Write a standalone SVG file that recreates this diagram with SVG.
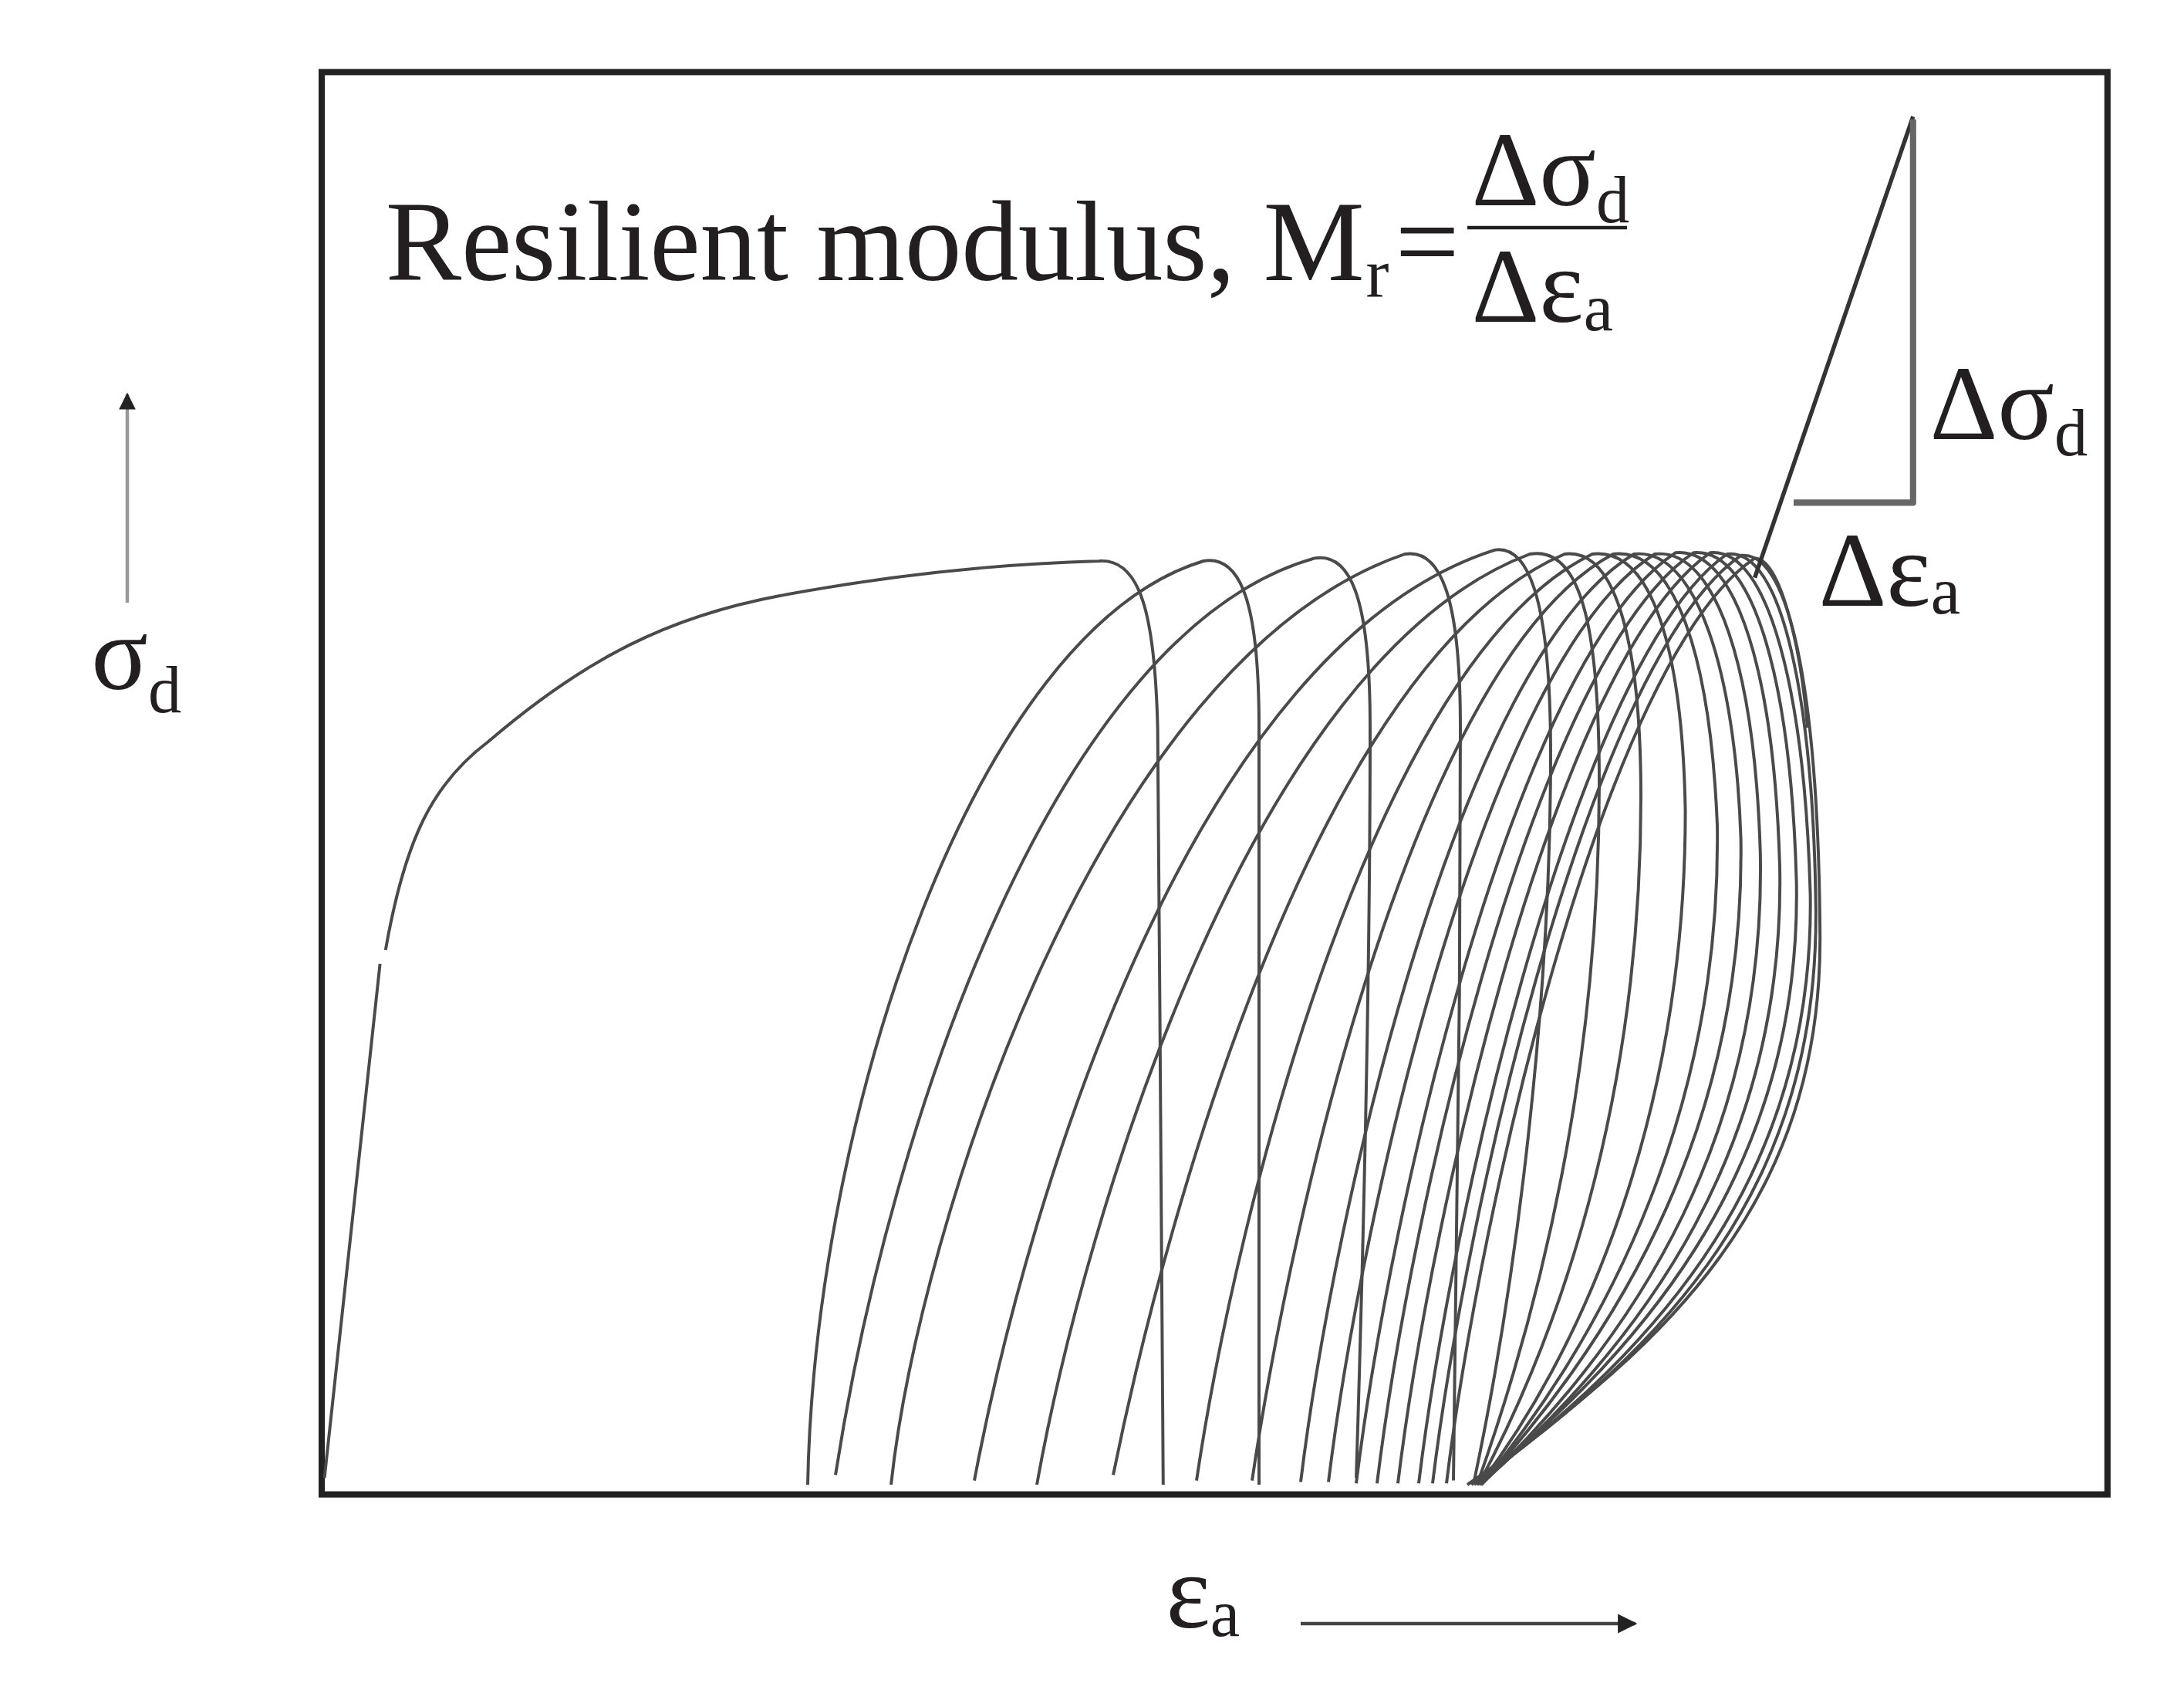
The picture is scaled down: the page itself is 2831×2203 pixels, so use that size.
<svg xmlns="http://www.w3.org/2000/svg" width="2831" height="2203" viewBox="0 0 2831 2203">
<style>
.t{font-family:"Liberation Serif","Times New Roman",serif;fill:#231f20}
.c{fill:none;stroke:#4a4a4a;stroke-width:2.2}
</style>
<defs>
<marker id="ah" viewBox="0 0 10 10" markerWidth="16" markerHeight="12" refX="9" refY="5" orient="auto" markerUnits="userSpaceOnUse"><path d="M0,0 L10,5 L0,10 Z" fill="#222"/></marker>
<marker id="ah2" viewBox="0 0 10 10" markerWidth="18" markerHeight="14" refX="9" refY="5" orient="auto" markerUnits="userSpaceOnUse"><path d="M0,0 L10,5 L0,10 Z" fill="#222"/></marker>
</defs>
<rect width="2831" height="2203" fill="#fff"/>
<g transform="translate(3,7) scale(1.8)">
<g id="frame"><rect x="230" y="48" width="1286" height="1024" fill="none" stroke="#222" stroke-width="4.5"/></g>
<g id="curves">
<path class="c" d="M232,1060 L272,690 M276,680 C290,600 310,560 350,530 C420,470 480,440 560,425 C640,410 720,402 790,400 C820,398 830,440 832,520 C834,700 834,900 836,1065"/>
<path class="c" d="M580,1065 C585,800 700,450 865,400 C895,395 905,440 905,520 C905,700 905,900 905,1065"/>
<path class="c" d="M600,1058 C640,800 760,450 945,398 C975,393 985,440 985,520 C985,700 980,900 975,1060"/>
<path class="c" d="M640,1065 C660,880 790,470 1010,395 C1040,390 1050,440 1050,520 C1050,700 1048,900 1045,1062"/>
<path class="c" d="M700,1062 C740,850 860,460 1075,392 C1105,388 1115,450 1115,540 C1115,720 1090,920 1060,1062"/>
<path class="c" d="M745,1065 C780,870 900,470 1100,395 C1140,388 1150,460 1150,560 C1150,760 1110,930 1062,1065"/>
<path class="c" d="M800,1058 C840,860 950,470 1125,395 C1165,390 1180,470 1180,570 C1180,770 1130,940 1063,1065"/>
<path class="c" d="M860,1062 C890,860 990,470 1145,395 C1190,390 1210,470 1212,580 C1212,780 1150,950 1064,1065"/>
<path class="c" d="M900,1062 C930,860 1020,470 1160,395 C1205,390 1230,470 1235,590 C1238,790 1160,950 1065,1065"/>
<path class="c" d="M935,1063 C960,860 1050,470 1175,395 C1220,390 1248,480 1252,600 C1255,800 1170,950 1065,1065"/>
<path class="c" d="M955,1063 C980,860 1070,470 1190,395 C1235,390 1262,480 1266,610 C1270,810 1180,955 1065,1065"/>
<path class="c" d="M975,1064 C1000,860 1090,470 1205,394 C1250,390 1276,485 1280,620 C1284,820 1185,960 1064,1065"/>
<path class="c" d="M990,1064 C1015,860 1105,470 1218,394 C1262,390 1288,490 1292,630 C1296,830 1190,960 1062,1065"/>
<path class="c" d="M1005,1064 C1030,860 1120,470 1230,394 C1272,390 1298,495 1302,640 C1305,840 1195,965 1060,1065"/>
<path class="c" d="M1020,1064 C1045,860 1135,470 1242,395 C1282,390 1304,500 1306,650 C1308,850 1200,965 1058,1065"/>
<path class="c" d="M1030,1064 C1055,860 1145,470 1252,396 C1290,392 1308,510 1309,670 C1310,860 1200,965 1055,1065"/>
<path class="c" d="M1040,1064 C1065,860 1155,470 1262,398 C1280,398 1295,460 1300,520"/>
</g>
<g id="tangent">
<path d="M1376,80 L1262,412" fill="none" stroke="#333" stroke-width="3"/>
<path d="M1376,82 L1376,358 L1290,358" fill="none" stroke="#666" stroke-width="4.5" stroke-linejoin="round"/>
</g>
<g id="axes">
<line x1="90" y1="430" x2="90" y2="280" stroke="#999" stroke-width="2.5" marker-end="url(#ah)"/>
<line x1="935" y1="1165" x2="1176" y2="1165" stroke="#444" stroke-width="2.5" marker-end="url(#ah2)"/>
</g>
<g id="labels">
<text class="t" x="276" y="198" font-size="82" textLength="705">Resilient modulus, M</text>
<text class="t" x="982" y="210" font-size="50">r</text>
<text class="t" x="1003" y="198" font-size="82">=</text>
<text class="t" x="1058" y="144" font-size="76">Δσ<tspan font-size="48" dy="12">d</tspan></text>
<line x1="1055" y1="160" x2="1170" y2="160" stroke="#231f20" stroke-width="2.5"/>
<text class="t" x="1058" y="228" font-size="76">Δε<tspan font-size="48" dy="6">a</tspan></text>
<text class="t" x="1388" y="312" font-size="76">Δσ<tspan font-size="48" dy="12">d</tspan></text>
<text class="t" x="1308" y="432" font-size="76">Δε<tspan font-size="48" dy="6">a</tspan></text>
<text class="t" x="64" y="492" font-size="76">σ<tspan font-size="48" dy="17">d</tspan></text>
<text class="t" x="838" y="1168" font-size="76">ε<tspan font-size="48" dy="6">a</tspan></text>
</g>
</g>
</svg>
